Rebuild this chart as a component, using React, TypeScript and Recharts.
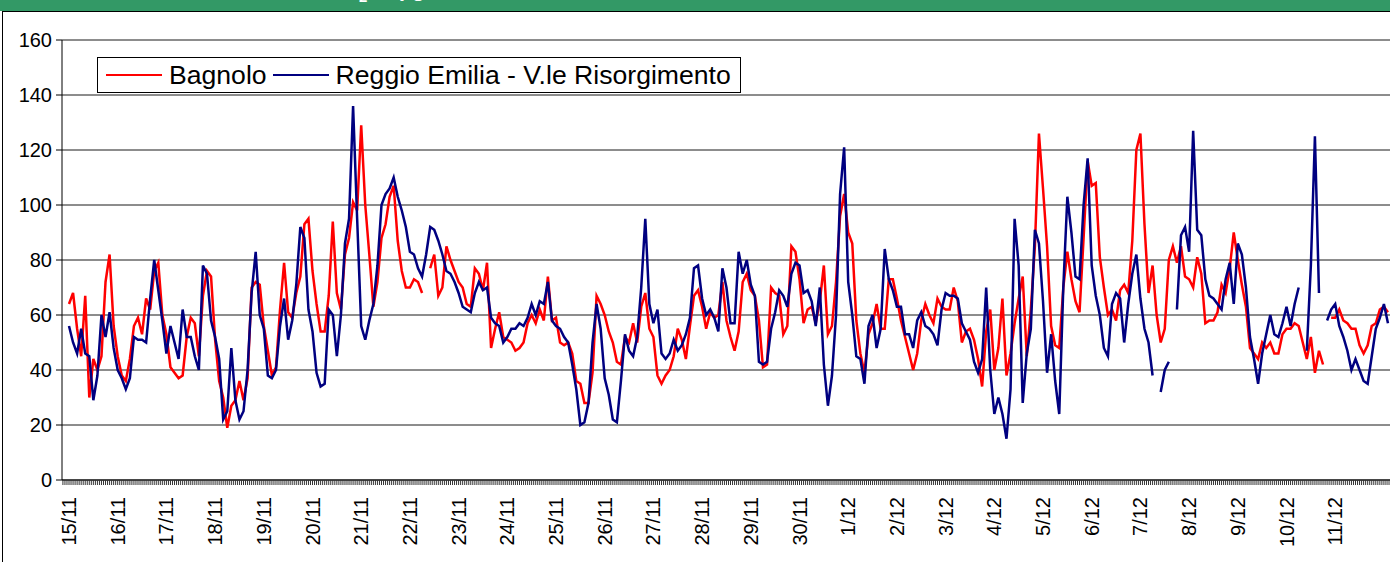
import React from 'react';
import { LineChart, Line, XAxis, YAxis, CartesianGrid, Legend } from 'recharts';

const FONT = '"Liberation Sans", Arial, sans-serif';

// Sampling step of the series (hours), starting 15/11 00:00
const STEP_HOURS = 2;

const dayLabels = [
  '15/11', '16/11', '17/11', '18/11', '19/11', '20/11', '21/11', '22/11', '23/11', '24/11',
  '25/11', '26/11', '27/11', '28/11', '29/11', '30/11', '1/12', '2/12', '3/12', '4/12',
  '5/12', '6/12', '7/12', '8/12', '9/12', '10/12', '11/12',
];

const yTicks = [0, 20, 40, 60, 80, 100, 120, 140, 160];

const seriesNames = ['Bagnolo', 'Reggio Emilia - V.le Risorgimento'];

// Bagnolo (one row per day, 2-hourly values)
const bagnolo: (number | null)[] = [
  64, 68, 55, 45, 67, 30, 44, 40, 45, 72, 82, 56,
  45, 38, 36, 44, 56, 59, 53, 66, 62, 76, 79, 60,
  53, 41, 39, 37, 38, 52, 59, 57, 45, 67, 76, 74,
  51, 36, 30, 19, 27, 29, 36, 29, 37, 70, 72, 71,
  56, 47, 38, 41, 62, 79, 61, 59, 68, 74, 93, 95,
  76, 64, 54, 54, 67, 94, 68, 62, 82, 88, 101, 98,
  129, 100, 82, 63, 72, 88, 93, 103, 107, 87, 76, 70,
  70, 73, 72, 68, null, 77, 82, 67, 70, 85, 80, 76,
  72, 70, 64, 63, 77, 75, 69, 79, 48, 55, 61, 52,
  51, 50, 47, 48, 50, 57, 60, 57, 62, 58, 74, 58,
  59, 50, 49, 50, 46, 36, 35, 28, 28, 39, 67, 64,
  60, 54, 50, 43, 42, 52, 50, 57, 50, 63, 68, 55,
  52, 38, 35, 38, 40, 45, 55, 51, 44, 56, 67, 69,
  63, 55, 61, 59, 60, 72, 58, 52, 47, 54, 72, 75,
  69, 67, 58, 41, 42, 70, 68, 67, 53, 56, 85, 83,
  73, 57, 62, 63, 57, 65, 78, 53, 56, 72, 96, 104,
  90, 86, 58, 46, 39, 53, 57, 64, 55, 55, 73, 73,
  66, 58, 52, 46, 40, 46, 58, 64, 60, 57, 66, 63,
  62, 62, 70, 65, 50, 54, 55, 51, 44, 34, 54, 62,
  40, 48, 66, 38, 46, 57, 66, 74, 45, 62, 85, 126,
  106, 85, 56, 49, 48, 70, 83, 73, 65, 61, 88, 116,
  107, 108, 81, 70, 60, 62, 58, 69, 71, 68, 87, 120,
  126, 93, 68, 78, 60, 50, 55, 80, 85, 79, 85, 74,
  73, 70, 81, 75, 57, 58, 58, 61, 71, 68, 77, 90,
  80, 71, 63, 48, 46, 44, 50, 48, 50, 46, 46, 53,
  55, 55, 57, 56, 50, 44, 52, 39, 47, 42, null, 59,
  59, 62, 58, 57, 55, 55, 49, 46, 49, 56, 57, 62,
  63, 61,
];

// Reggio Emilia - V.le Risorgimento (one row per day, 2-hourly values)
const reggio: (number | null)[] = [
  56, 50, 46, 55, 46, 45, 29, 38, 60, 52, 61, 48,
  40, 37, 33, 37, 52, 51, 51, 50, 66, 80, 69, 58,
  46, 56, 50, 44, 62, 52, 52, 45, 40, 78, 75, 58,
  52, 44, 22, 25, 48, 29, 22, 25, 40, 68, 83, 60,
  55, 38, 37, 40, 56, 66, 51, 58, 71, 92, 88, 62,
  54, 39, 34, 35, 62, 60, 45, 60, 86, 95, 136, 95,
  56, 51, 58, 64, 78, 100, 104, 106, 110, 103, 98, 92,
  83, 82, 77, 74, 82, 92, 91, 87, 82, 76, 75, 72,
  68, 63, 62, 61, 68, 72, 69, 70, 59, 57, 56, 50,
  52, 55, 55, 57, 56, 59, 64, 60, 65, 64, 72, 58,
  56, 55, 52, 50, 42, 33, 20, 21, 28, 50, 64, 55,
  37, 31, 22, 21, 36, 53, 47, 45, 52, 70, 95, 64,
  57, 62, 46, 44, 46, 51, 47, 49, 53, 59, 77, 78,
  66, 60, 62, 59, 54, 77, 70, 57, 57, 83, 75, 80,
  71, 67, 43, 42, 43, 55, 61, 69, 67, 63, 75, 79,
  78, 68, 69, 65, 56, 70, 42, 27, 38, 60, 104, 121,
  72, 60, 45, 44, 35, 56, 60, 48, 55, 84, 73, 69,
  63, 63, 53, 53, 48, 58, 61, 56, 55, 53, 49, 62,
  68, 67, 67, 66, 57, 54, 51, 43, 39, 44, 70, 40,
  24, 30, 24, 15, 33, 95, 78, 28, 46, 55, 91, 86,
  65, 39, 53, 36, 24, 70, 103, 90, 74, 73, 100, 117,
  78, 67, 60, 48, 45, 64, 68, 66, 50, 64, 75, 82,
  66, 55, 50, 38, null, 32, 40, 43, null, 62, 89, 92,
  83, 127, 91, 89, 73, 67, 66, 64, 62, 73, 79, 64,
  86, 82, 70, 52, 44, 35, 46, 53, 60, 53, 52, 57,
  63, 56, 64, 70, null, 47, 78, 125, 68, null, 58, 62,
  64, 56, 52, 47, 40, 44, 40, 36, 35, 45, 55, 59,
  64, 57,
];

const data = bagnolo.map((v, i) => ({
  h: i * STEP_HOURS,
  bagnolo: v,
  reggio: reggio[i] ?? null,
}));

// visible hour range of the category axis
const X_MIN = -3.45;
const X_MAX = 651;
const hourTicks = Array.from({ length: 655 }, (_, i) => i - 3);

const DayTick = (props: any) => {
  const { x, y, payload } = props;
  const h = payload.value;
  if (h % 24 !== 0) return null;
  const label = dayLabels[h / 24];
  if (!label) return null;
  const ty = y + 10;
  return (
    <text
      x={x}
      y={ty}
      transform={`rotate(-90, ${x}, ${ty})`}
      textAnchor="end"
      dominantBaseline="central"
      fontFamily={FONT}
      fontSize={20}
      fill="#000"
    >
      {label}
    </text>
  );
};

const LegendBox = (props: any) => {
  const payload = props.payload || [];
  return (
    <div
      style={{
        display: 'flex',
        alignItems: 'center',
        boxSizing: 'border-box',
        height: 36,
        border: '1px solid #000',
        background: '#fff',
        padding: '0 9px 0 8px',
        fontFamily: FONT,
        fontSize: 26.6,
        color: '#000',
        whiteSpace: 'nowrap',
      }}
    >
      {payload.map((p: any, i: number) => (
        <React.Fragment key={i}>
          <span
            style={{
              display: 'inline-block',
              width: 56,
              height: 0,
              borderTop: `2.5px solid ${p.color}`,
              marginRight: 7,
            }}
          />
          <span style={{ marginRight: i < payload.length - 1 ? 6 : 0, lineHeight: '30px' }}>{p.value}</span>
        </React.Fragment>
      ))}
    </div>
  );
};

export default function App() {
  return (
    <div
      style={{
        position: 'absolute',
        left: 0,
        top: 0,
        width: 1390,
        height: 562,
        background: '#fff',
        overflow: 'hidden',
      }}
    >
      <div
        style={{
          position: 'absolute',
          left: 2,
          top: 11,
          width: 1500,
          height: 600,
          borderLeft: '1px solid #000',
          borderTop: '1px solid #000',
        }}
      />
      <div style={{ position: 'absolute', left: 0, top: 0 }}>
        <LineChart
          width={1390}
          height={562}
          data={data}
          margin={{ top: 40, right: 0, bottom: 0, left: 0 }}
        >
          <CartesianGrid vertical={false} stroke="#1a1a1a" />
          <XAxis
            type="number"
            dataKey="h"
            domain={[X_MIN, X_MAX]}
            allowDataOverflow
            ticks={hourTicks}
            interval={0}
            tickSize={5}
            tickLine={{ stroke: '#333', strokeWidth: 1 }}
            axisLine={{ stroke: '#000' }}
            tick={<DayTick />}
            height={82}
          />
          <YAxis
            type="number"
            domain={[0, 160]}
            ticks={yTicks}
            interval={0}
            width={62}
            tickSize={6}
            tickMargin={4}
            axisLine={{ stroke: '#000' }}
            tickLine={{ stroke: '#000' }}
            tick={{ fontSize: 20, fill: '#000', fontFamily: FONT }}
          />
          <Legend
            layout="horizontal"
            verticalAlign="middle"
            align="center"
            content={<LegendBox />}
            wrapperStyle={{ top: 57, left: 97, width: 'auto', height: 36 }}
          />
          <Line
            type="linear"
            dataKey="bagnolo"
            name={seriesNames[0]}
            stroke="#ff0000"
            strokeWidth={2.5}
            dot={false}
            isAnimationActive={false}
          />
          <Line
            type="linear"
            dataKey="reggio"
            name={seriesNames[1]}
            stroke="#000080"
            strokeWidth={2.5}
            dot={false}
            isAnimationActive={false}
          />
        </LineChart>
      </div>
      <svg
        width={1390}
        height={11}
        style={{ position: 'absolute', left: 0, top: 0, display: 'block' }}
      >
        <rect x={0} y={0} width={1390} height={11} fill="#339966" />
        <text x={322} y={-4} textAnchor="end" fill="#fff" fontFamily={FONT} fontWeight="bold" fontSize={22}>
          Concentrazioni orarie di
        </text>
        <text x={326} y={-4} fill="#fff" fontFamily={FONT} fontWeight="bold" fontSize={22}>
          NO<tspan dy={6} fontSize={15}>2</tspan>
          <tspan dy={-6}> in µg/m³</tspan>
        </text>
      </svg>
    </div>
  );
}
